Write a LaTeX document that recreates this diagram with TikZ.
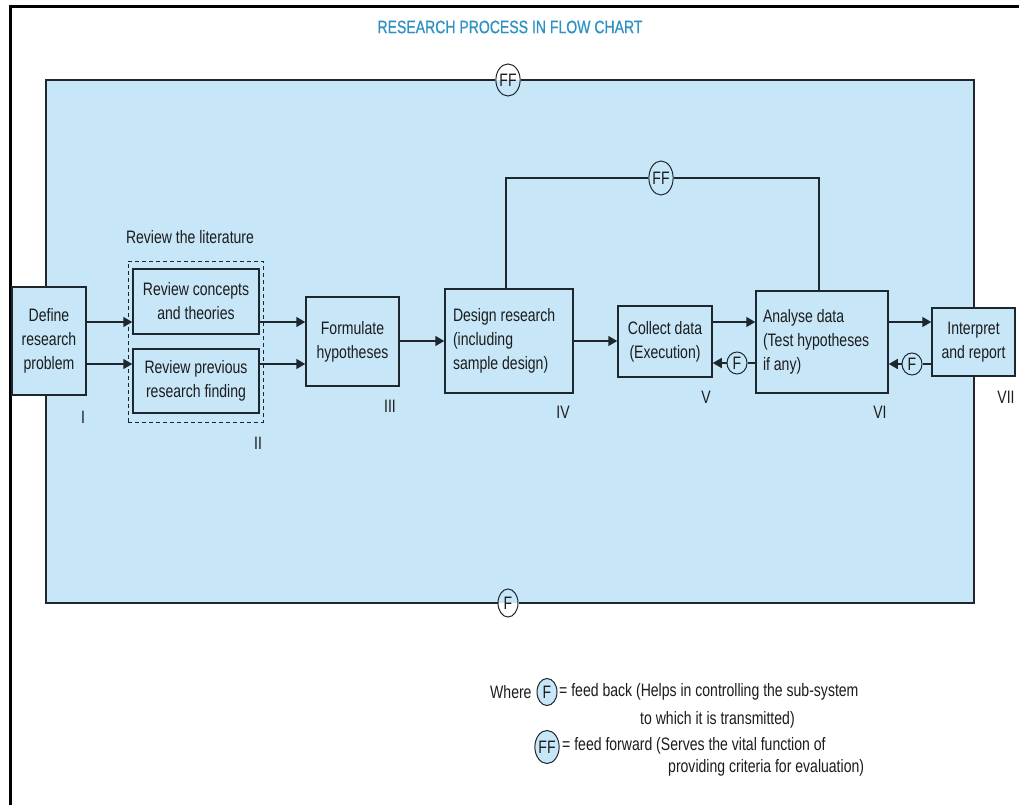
\documentclass[tikz,border=0pt]{standalone}
\usepackage{fontspec}
\setmainfont{Liberation Sans}[FakeStretch=0.78]
\newfontfamily\titlefont{Liberation Sans}[FakeStretch=0.78,FakeBold=0.6]
\usetikzlibrary{arrows.meta,shapes.geometric}
\definecolor{bgblue}{RGB}{199,231,249}
\definecolor{ln}{RGB}{30,38,46}
\definecolor{tx}{RGB}{28,28,28}
\definecolor{ttl}{RGB}{45,145,195}
\begin{document}
\begin{tikzpicture}[x=1pt,y=-1pt,
  font=\fontsize{18}{24}\selectfont, text=tx,
  box/.style={draw=ln, line width=1.5pt, fill=bgblue, rectangle, inner sep=0pt, align=center},
  arr/.style={draw=ln, line width=1.5pt, -{Triangle[length=9pt,width=10pt]}},
  conn/.style={draw=ln, line width=1.5pt},
  fb/.style={ellipse, draw=ln, line width=1pt, inner sep=0pt, minimum width=20pt, minimum height=22pt, font=\fontsize{18}{18}\selectfont},
  lbl/.style={inner sep=0pt}
]
\useasboundingbox (0,0) rectangle (1019,805);
\fill[white] (0,0) rectangle (1019,805);
% outer frame
\draw[line width=3pt] (10.5,805) -- (10.5,7) -- (1019,7);
% title
\node[lbl, text=ttl, font=\titlefont\fontsize{18}{24}\selectfont] (title) at (510,27) {RESEARCH PROCESS IN FLOW CHART};
% blue area
\fill[bgblue] (46,80) rectangle (974,603);
\node[fb, minimum width=24pt, minimum height=32pt] (fftop) at (508,80) {FF};
\node[fb, minimum height=28pt] (fbot) at (508,603) {F};
\draw[conn] (fftop.east) -- (974,80) -- (974,603) -- (fbot.east);
\draw[conn] (fbot.west) -- (46,603) -- (46,80) -- (fftop.west);
% boxes
\node[box, minimum width=74pt, minimum height=108pt] (def) at (49,341) {Define\\research\\problem};
\node[draw=ln, dash pattern=on 4pt off 3pt, line width=1pt, minimum width=135pt, minimum height=161pt, inner sep=0pt] (lit) at (195.5,341.5) {};
\node[box, minimum width=126pt, minimum height=65pt] (rc) at (196,301.5) {Review concepts\\and theories};
\node[box, minimum width=126pt, minimum height=64pt] (rp) at (196,381) {Review previous\\research finding};
\node[lbl] (littxt) at (190,237) {Review the literature};
\node[box, minimum width=93pt, minimum height=89pt] (form) at (352.5,341.5) {Formulate\\hypotheses};
\node[box, minimum width=128pt, minimum height=104pt, text width=112pt, align=flush left] (des) at (509,341) {Design research\\(including\\sample design)};
\node[box, minimum width=94pt, minimum height=71pt] (col) at (665,341.5) {Collect data\\(Execution)};
\node[box, minimum width=132pt, minimum height=102pt, text width=118pt, align=flush left] (ana) at (822,342) {Analyse data\\(Test hypotheses\\if any)};
\node[box, minimum width=83pt, minimum height=68pt] (int) at (973.5,342) {Interpret\\and report};
% roman labels
\node[lbl] (l1) at (83,417) {I};
\node[lbl] (l2) at (258,443) {II};
\node[lbl] (l3) at (390,406) {III};
\node[lbl] (l4) at (563,412) {IV};
\node[lbl] (l5) at (706,397) {V};
\node[lbl] (l6) at (880,412) {VI};
\node[lbl] (l7) at (1006,397) {VII};
% arrows
\coordinate (y1) at (0,322);
\coordinate (y2) at (0,364);
\coordinate (ym) at (0,341);
\draw[arr] (def.east |- y1) -- (rc.west |- y1);
\draw[arr] (def.east |- y2) -- (rp.west |- y2);
\draw[arr] (rc.east |- y1) -- (form.west |- y1);
\draw[arr] (rp.east |- y2) -- (form.west |- y2);
\draw[arr] (form.east |- ym) -- (des.west |- ym);
\draw[arr] (des.east |- ym) -- (col.west |- ym);
\draw[arr] (col.east |- y1) -- (ana.west |- y1);
\draw[arr] (ana.east |- y1) -- (int.west |- y1);
% feedback
\node[fb, fill=bgblue] (f1) at (737,363) {F};
\node[fb, fill=bgblue] (f2) at (912,364) {F};
\draw[conn] (ana.west |- f1) -- (f1);
\draw[arr] (f1) -- (col.east |- f1);
\draw[conn] (int.west |- f2) -- (f2);
\draw[arr] (f2) -- (ana.east |- f2);
% feed forward loop
\node[fb, fill=bgblue, minimum width=24pt, minimum height=34pt] (ffin) at (661,178) {FF};
\coordinate (xl) at (506,178);
\coordinate (xr) at (819,178);
\draw[conn] (ffin) -- (xl) -- (xl |- des.north);
\draw[conn] (ffin) -- (xr) -- (xr |- ana.north);
% legend
\node[lbl, anchor=west] (where) at (490,692) {Where};
\node[fb, fill=bgblue, minimum height=27pt] (lf) at (547,692) {F};
\node[lbl, anchor=west] (lt1) at (559,692) {= feed back (Helps in controlling the sub-system};
\node[lbl, anchor=west] (lt2) at (640,720) {to which it is transmitted)};
\node[fb, fill=bgblue, minimum width=24pt, minimum height=33pt] (lff) at (547,747) {FF};
\node[lbl, anchor=west] (lt3) at (562,746) {= feed forward (Serves the vital function of};
\node[lbl, anchor=west] (lt4) at (668,768) {providing criteria for evaluation)};
\end{tikzpicture}
\end{document}
